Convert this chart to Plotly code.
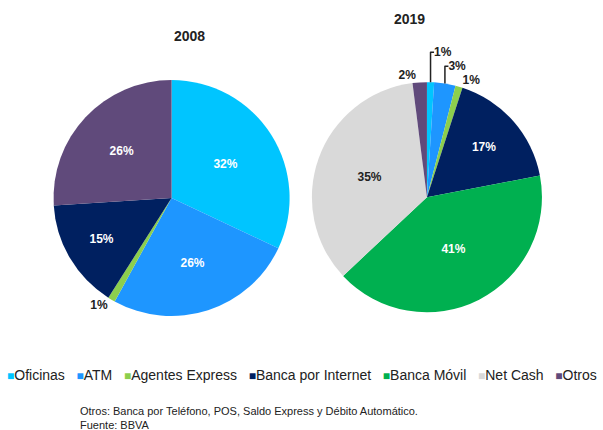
import plotly.graph_objects as go

canales = ["Oficinas", "ATM", "Agentes Express", "Banca por Internet",
           "Banca Móvil", "Net Cash", "Otros"]
colores = ["#00c5ff", "#1e96ff", "#8ccf4d", "#002060", "#00b050", "#d9d9d9", "#604a7b"]
valores_2008 = [32, 26, 1, 15, 0, 0, 26]
valores_2019 = [1, 3, 1, 17, 41, 35, 2]
texto_negro = ["Net Cash"]  # rebanadas claras con texto oscuro


def etiquetas(valores):
    return [f"{v}%" if v > 0 else "" for v in valores]


def posiciones(valores):
    # las rebanadas pequeñas llevan la etiqueta afuera
    return ["outside" if v < 5 else "inside" for v in valores]


def color_texto(valores):
    return ["#222222" if c in texto_negro else "white" for c in canales]


fig = go.Figure()

for valores, dominio in [
    (valores_2008, dict(x=[0.088, 0.481], y=[0.265, 0.814])),
    (valores_2019, dict(x=[0.517, 0.899], y=[0.274, 0.809])),
]:
    fig.add_trace(go.Pie(
        labels=canales,
        values=valores,
        text=etiquetas(valores),
        textinfo="text",
        textposition=posiciones(valores),
        insidetextorientation="horizontal",
        insidetextfont=dict(color=color_texto(valores), size=12,
                            family="Liberation Sans, Arial", weight="bold"),
        outsidetextfont=dict(color="#222222", size=12,
                             family="Liberation Sans, Arial", weight="bold"),
        marker=dict(colors=colores, line=dict(width=0)),
        sort=False,
        direction="clockwise",
        rotation=0,
        domain=dominio,
        showlegend=False,
        hoverinfo="label+percent",
    ))

# títulos de cada año
for anio, x, y in [("2008", 0.285, 0.94), ("2019", 0.708, 0.98)]:
    fig.add_annotation(text=f"<b>{anio}</b>", x=x, y=y, xref="paper", yref="paper",
                       showarrow=False, font=dict(size=14, color="#222222"))

# leyenda horizontal compacta
partes = [f"<span style='color:{c};font-size:12px'>■</span>{n}" for n, c in zip(canales, colores)]
fig.add_annotation(text="   ".join(partes), x=0.5, y=0.105, xref="paper", yref="paper",
                   showarrow=False, font=dict(size=14, color="#222222",
                                              family="Liberation Sans, Arial"))

fig.add_annotation(
    text="Otros: Banca por Teléfono, POS, Saldo Express y Débito Automático.<br>Fuente: BBVA",
    x=0.129, y=-0.008, xref="paper", yref="paper", xanchor="left", yanchor="bottom",
    align="left", showarrow=False,
    font=dict(size=11, color="#222222", family="Liberation Sans, Arial"),
)

fig.update_layout(
    width=603, height=430,
    margin=dict(l=0, r=0, t=0, b=0),
    paper_bgcolor="white",
    font=dict(family="Liberation Sans, Arial"),
)

fig.write_html("out.html", config={"displayModeBar": False},
               post_script="document.body.style.margin='0';")
